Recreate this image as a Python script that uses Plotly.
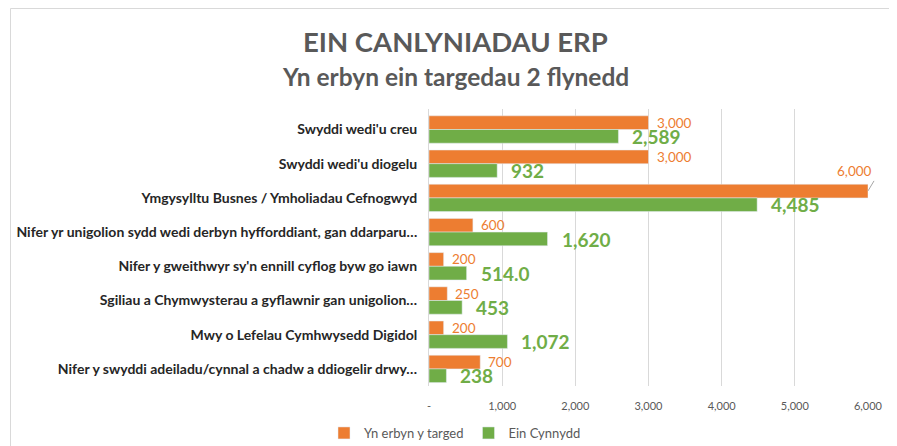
import plotly.graph_objects as go

categories = [
    "Swyddi wedi'u creu",
    "Swyddi wedi'u diogelu",
    "Ymgysylltu Busnes / Ymholiadau Cefnogwyd",
    "Nifer yr unigolion sydd wedi derbyn hyfforddiant, gan ddarparu…",
    "Nifer y gweithwyr sy'n ennill cyflog byw go iawn",
    "Sgiliau a Chymwysterau a gyflawnir gan unigolion…",
    "Mwy o Lefelau Cymhwysedd Digidol",
    "Nifer y swyddi adeiladu/cynnal a chadw a ddiogelir drwy…",
]
target = [3000, 3000, 6000, 600, 200, 250, 200, 700]
progress = [2589, 932, 4485, 1620, 514, 453, 1072, 238]
progress_labels = ["2,589", "932", "4,485", "1,620", "514.0", "453", "1,072", "238"]
tick_vals = [0, 1000, 2000, 3000, 4000, 5000, 6000]
tick_text = ["-", "1,000", "2,000", "3,000", "4,000", "5,000", "6,000"]

ORANGE = "#ED7D31"
GREEN = "#70AD47"
FONT = "Lato"

# page body has an 8px margin, so the figure is drawn 8px in from the window corner
OFF = 8
W, H = 897, 446
L, T = 429 - OFF, 109 - OFF
R = W - (868 - OFF)
B = H - (386 - OFF)
PW, PH = W - L - R, H - T - B


def px_x(ref_px):
    return (ref_px - OFF - L) / PW


def px_y(ref_py):
    return (H - B - (ref_py - OFF)) / PH


fig = go.Figure()
fig.add_trace(go.Bar(y=categories, x=target, orientation="h", name="Yn erbyn y targed",
                     marker=dict(color=ORANGE)))
fig.add_trace(go.Bar(y=categories, x=progress, orientation="h", name="Ein Cynnydd",
                     marker=dict(color=GREEN)))

annotations = []
for c, v in zip(categories, target):
    if v == max(target):
        annotations.append(dict(x=v, y=c, xref="x", yref="y", text=f"{v:,}",
                                showarrow=True, arrowhead=0, arrowwidth=1, arrowcolor="#A6A6A6",
                                ax=6, ay=-10, yshift=7, xanchor="right", yanchor="bottom",
                                xshift=0,
                                font=dict(family=FONT, size=13.5, color=ORANGE)))
    else:
        annotations.append(dict(x=v, y=c, xref="x", yref="y", text=f"{v:,}", showarrow=False,
                                xanchor="left", yanchor="middle", xshift=6, yshift=7,
                                font=dict(family=FONT, size=13.5, color=ORANGE)))
for c, v, t in zip(categories, progress, progress_labels):
    annotations.append(dict(x=v, y=c, xref="x", yref="y", text=f"<b>{t}</b>", showarrow=False,
                            xanchor="left", yanchor="middle", xshift=12, yshift=-7,
                            font=dict(family=FONT, size=19, color=GREEN)))

annotations.append(dict(xref="paper", yref="paper", x=px_x(455), y=px_y(42),
                        text="<b>EIN CANLYNIADAU ERP</b>", showarrow=False,
                        xanchor="center", yanchor="middle",
                        font=dict(family=FONT, size=27.5, color="#595959")))
annotations.append(dict(xref="paper", yref="paper", x=px_x(455), y=px_y(77),
                        text="<b>Yn erbyn ein targedau 2 flynedd</b>", showarrow=False,
                        xanchor="center", yanchor="middle",
                        font=dict(family=FONT, size=24.5, color="#595959")))

fig.update_layout(
    width=W, height=H,
    margin=dict(l=L, r=R, t=T, b=B, autoexpand=False),
    paper_bgcolor="white", plot_bgcolor="white",
    barmode="group", bargap=0.2, bargroupgap=0,
    xaxis=dict(range=[0, 6000], tickvals=tick_vals, ticktext=tick_text, automargin=False,
               showgrid=True, gridcolor="#D9D9D9", gridwidth=1, zeroline=False,
               showline=False, tickfont=dict(family=FONT, size=11, color="#595959"),
               ticks="", ticklabelstandoff=12),
    yaxis=dict(autorange="reversed", showline=True, linecolor="#D9D9D9", ticks="", automargin=False,
               tickfont=dict(family=FONT, size=14, color="#262626", weight="bold"),
               ticklabelstandoff=8),
    legend=dict(orientation="h", x=px_x(455), xanchor="center",
                y=px_y(418), yanchor="top", bgcolor="rgba(0,0,0,0)",
                font=dict(family=FONT, size=13, color="#595959"), traceorder="normal",
                itemwidth=30),
    annotations=annotations,
    font=dict(family=FONT),
    shapes=[dict(type="rect", xref="paper", yref="paper",
                 x0=px_x(10.5), x1=px_x(905), y0=px_y(460), y1=px_y(8.5),
                 line=dict(color="#D9D9D9", width=1), fillcolor="rgba(0,0,0,0)", layer="below")],
)

fig.write_html("out.html")
